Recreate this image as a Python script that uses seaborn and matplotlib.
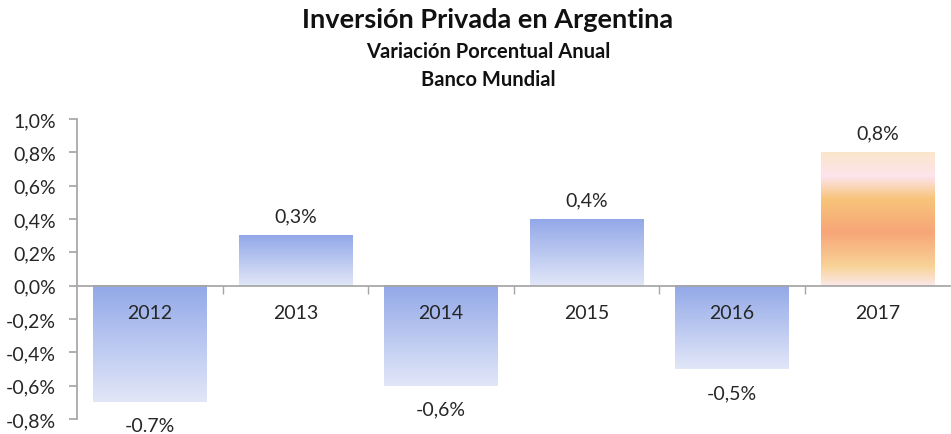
import numpy as np
import pandas as pd
import matplotlib
matplotlib.use("Agg")
import matplotlib.pyplot as plt
from matplotlib.ticker import FixedLocator, FuncFormatter
import seaborn as sns

years = ["2012", "2013", "2014", "2015", "2016", "2017"]
values = [-0.7, 0.3, -0.6, 0.4, -0.5, 0.8]
value_labels = ["-0.7%", "0,3%", "-0,6%", "0,4%", "-0,5%", "0,8%"]
y_ticks = [-0.8, -0.6, -0.4, -0.2, 0.0, 0.2, 0.4, 0.6, 0.8, 1.0]

sns.set_theme(style="white")
plt.rcParams['font.family'] = ['Lato', 'DejaVu Sans']

df = pd.DataFrame({"Año": years, "Variación": values})

fig = plt.figure(figsize=(9.51, 4.35), dpi=100)
ax = fig.add_axes([0.081, 0.0345, 0.918, 0.6897])

sns.barplot(data=df, x="Año", y="Variación", color="#a0b2ea", width=0.78,
            ax=ax, zorder=1)

# gradientes
blue = np.array([[146, 168, 232], [226, 231, 248]]) / 255.0
orange_stops = [0.0, 0.18, 0.35, 0.6, 0.85, 1.0]
orange_cols = np.array([[251, 230, 205], [253, 228, 236], [248, 196, 122],
                        [247, 166, 120], [248, 210, 150], [252, 232, 232]]) / 255.0
n = 200
t = np.linspace(0, 1, n)
for i, p in enumerate(ax.patches):
    x0, x1 = p.get_x(), p.get_x() + p.get_width()
    ya, yb = p.get_y(), p.get_y() + p.get_height()
    ymin, ymax = min(ya, yb), max(ya, yb)
    if i == len(years) - 1:
        rgb = np.stack([np.interp(t, orange_stops, orange_cols[:, c]) for c in range(3)], axis=1)
    else:
        rgb = blue[0] + (blue[1] - blue[0]) * t[:, None]
    img = np.tile(rgb[:, None, :], (1, 2, 1))
    ax.imshow(img, extent=[x0, x1, ymin, ymax], aspect='auto', origin='upper',
              zorder=1, interpolation='bilinear')
    p.set_facecolor('none')
    p.set_edgecolor('none')

# etiquetas de valores
for i, (v, lab) in enumerate(zip(values, value_labels)):
    if v >= 0:
        ax.text(i, v + 0.065, lab, ha='center', va='bottom', fontsize=14, color='#262626')
    else:
        ax.text(i, v - 0.09, lab, ha='center', va='top', fontsize=14, color='#262626')

ax.set_xlim(-0.5, 5.5)
ax.set_ylim(-0.8, 1.0)
ax.set_yticks(y_ticks)
ax.yaxis.set_major_formatter(FuncFormatter(lambda v, _: f"{v:.1f}%".replace('.', ',')))
ax.set_xlabel("")
ax.set_ylabel("")
ax.set_axisbelow(False)

for s in ['top', 'right']:
    ax.spines[s].set_visible(False)
ax.spines['left'].set_color('#a6a6a6')
ax.spines['bottom'].set_color('#a6a6a6')
ax.spines['bottom'].set_position(('data', 0))
ax.spines['bottom'].set_zorder(3)

ax.xaxis.set_minor_locator(FixedLocator([0.5, 1.5, 2.5, 3.5, 4.5]))
ax.tick_params(axis='x', which='major', length=0, pad=13, labelsize=14, labelcolor='#262626')
ax.tick_params(axis='x', which='minor', length=6, color='#a6a6a6', direction='out', bottom=True)
ax.tick_params(axis='y', length=6, color='#a6a6a6', left=True, labelsize=14,
               labelcolor='#262626', pad=9)

fig.text(0.513, 0.953, "Inversión Privada en Argentina", ha='center', va='center',
         fontsize=19.5, fontweight='bold', color='#111111')
fig.text(0.513, 0.88, "Variación Porcentual Anual", ha='center', va='center',
         fontsize=14.5, fontweight='bold', color='#111111')
fig.text(0.513, 0.815, "Banco Mundial", ha='center', va='center',
         fontsize=14.5, fontweight='bold', color='#111111')

fig.savefig("out.png", dpi=100)
